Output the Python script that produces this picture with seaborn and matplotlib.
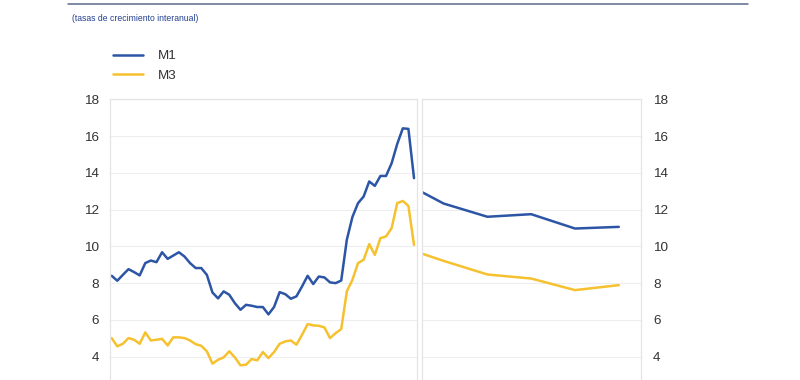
import matplotlib
matplotlib.use("Agg")
import matplotlib.pyplot as plt
import seaborn as sns
import pandas as pd
from matplotlib.lines import Line2D

# ---------------- data ----------------
title = "(tasas de crecimiento interanual)"
series_names = ["M1", "M3"]

# historical monthly observations (left panel)
hist_period = list(range(55))
hist_m1 = [8.40, 8.13, 8.45, 8.76, 8.60, 8.42, 9.09, 9.23, 9.14, 9.68,
           9.32, 9.50, 9.68, 9.45, 9.09, 8.82, 8.82, 8.45, 7.49, 7.17,
           7.55, 7.37, 6.91, 6.55, 6.82, 6.77, 6.70, 6.70, 6.30, 6.70,
           7.51, 7.40, 7.15, 7.28, 7.82, 8.40, 7.95, 8.36, 8.31, 8.04,
           8.00, 8.14, 10.36, 11.60, 12.35, 12.71, 13.53, 13.29, 13.83, 13.83,
           14.52, 15.57, 16.42, 16.39, 13.71]
hist_m3 = [5.01, 4.56, 4.70, 5.01, 4.92, 4.70, 5.32, 4.88, 4.92, 4.97,
           4.61, 5.05, 5.05, 5.01, 4.88, 4.68, 4.59, 4.29, 3.62, 3.83,
           3.96, 4.29, 3.96, 3.53, 3.56, 3.87, 3.80, 4.25, 3.92, 4.25,
           4.70, 4.83, 4.88, 4.65, 5.19, 5.77, 5.70, 5.68, 5.59, 5.01,
           5.28, 5.50, 7.55, 8.18, 9.09, 9.27, 10.12, 9.54, 10.45, 10.54,
           10.99, 12.35, 12.47, 12.20, 10.08]

# projection periods (right panel)
proj_period = [0, 1, 3, 5, 7, 9]
proj_m1 = [12.96, 12.33, 11.61, 11.75, 10.97, 11.06]
proj_m3 = [9.61, 9.21, 8.47, 8.25, 7.62, 7.89]

y_ticks = [4, 6, 8, 10, 12, 14, 16, 18]

# ---------------- style ----------------
sns.set_style("white")
plt.rcParams["font.family"] = ["Liberation Sans", "DejaVu Sans"]

BLUE = "#2d55a5"
YELLOW = "#f6c12f"
GRID = "#eeeeee"
FRAME = "#e4e4e4"
TXT = "#333333"
TITLE_C = "#23408e"
LW = 1.8

hist_df = pd.DataFrame({
    "period": hist_period * 2,
    "value": hist_m1 + hist_m3,
    "serie": [series_names[0]] * len(hist_m1) + [series_names[1]] * len(hist_m3),
})
proj_df = pd.DataFrame({
    "period": proj_period * 2,
    "value": proj_m1 + proj_m3,
    "serie": [series_names[0]] * len(proj_m1) + [series_names[1]] * len(proj_m3),
})
palette = {series_names[0]: BLUE, series_names[1]: YELLOW}

W, H = 800, 380
fig = plt.figure(figsize=(W / 100, H / 100), dpi=100)

top = 1 - 99.3 / H
ax1 = fig.add_axes([110 / W, 0, 306.7 / W, top])
ax2 = fig.add_axes([421.7 / W, 0, 219 / W, top])

sns.lineplot(data=hist_df, x="period", y="value", hue="serie", palette=palette,
             linewidth=LW, ax=ax1, legend=False)
sns.lineplot(data=proj_df, x="period", y="value", hue="serie", palette=palette,
             linewidth=LW, ax=ax2, legend=False)

ylim = (2.73, 18.0)
ax1.set_xlim(-0.30, 54.48)
ax2.set_xlim(0, 10)

for ax in (ax1, ax2):
    ax.set_ylim(*ylim)
    ax.set_yticks(y_ticks)
    ax.set_xticks([])
    ax.set_xlabel("")
    ax.set_ylabel("")
    ax.grid(axis="y", color=GRID, linewidth=0.8)
    ax.set_axisbelow(True)
    for side in ("left", "right", "top"):
        ax.spines[side].set_visible(True)
        ax.spines[side].set_color(FRAME)
        ax.spines[side].set_linewidth(0.9)
    ax.spines["bottom"].set_visible(False)
    ax.tick_params(axis="y", length=0, labelsize=9.7, labelcolor=TXT, pad=8)

ax2.yaxis.tick_right()
ax2.tick_params(axis="y", length=0, pad=9)

# legend
handles = [Line2D([0], [0], color=BLUE, linewidth=LW),
           Line2D([0], [0], color=YELLOW, linewidth=LW)]
fig.legend(handles, series_names, loc="upper left",
           bbox_to_anchor=(113 / W, 1 - 50 / H), frameon=False,
           fontsize=9.7, handlelength=2.2, handletextpad=1.15,
           labelspacing=0.52, borderpad=0, borderaxespad=0,
           labelcolor=TXT)

# top rule and subtitle
fig.add_artist(Line2D([68 / W, 748 / W], [1 - 4 / H, 1 - 4 / H],
                      color="#5b6a8c", linewidth=1.1))
fig.text(71.5 / W, 1 - 18.3 / H, title, fontsize=6.2, color=TITLE_C,
         ha="left", va="center")

fig.savefig("out.png", dpi=100)
